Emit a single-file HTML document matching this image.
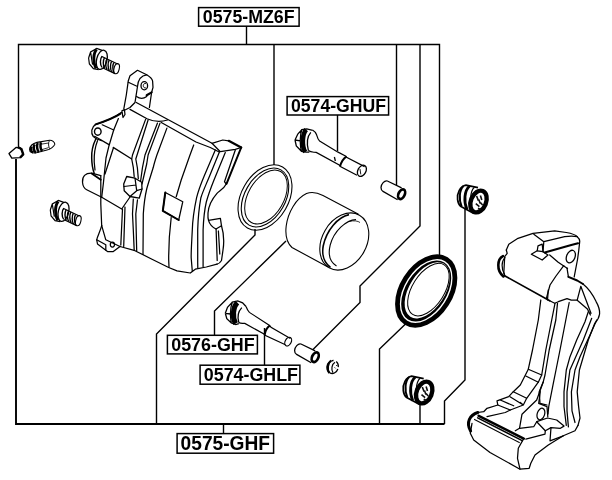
<!DOCTYPE html>
<html><head><meta charset="utf-8">
<style>
html,body{margin:0;padding:0;background:#fff;}
body{width:612px;height:480px;overflow:hidden;position:relative;font-family:"Liberation Sans",sans-serif;}
svg{position:absolute;left:0;top:0;}
</style></head><body>
<svg width="612" height="480" viewBox="0 0 612 480">
<!-- LEADERS -->
<g id="leaders" fill="none" stroke="#000" stroke-width="1.4" stroke-linejoin="miter">
<path d="M18.5 147V44.5H439.5V256"/>
<path d="M246.5 26V44.5"/>
<path d="M274 44.5V165"/>
<path d="M396.5 44.5V186"/>
<path d="M420 44.5V226L360 286V302.5L312.5 350"/>
<path d="M337.5 115V151"/>
<path d="M465 209V380L444.5 401V424"/>
<path d="M255 229V235L156.5 334V424"/>
<path d="M286 241L214.5 311V336"/>
<path d="M264.5 328V365"/>
<path d="M405.5 324L379.5 349V424"/>
<path d="M420 404V424"/>
<path d="M223.5 424V433"/>
</g>
<g id="leaders2" fill="none" stroke="#000" stroke-width="1.9">
<path d="M16 159V424H444.5"/>
</g>
<!-- PARTS -->
<g id="caliper" fill="none" stroke="#000" stroke-width="1.25" stroke-linejoin="round" stroke-linecap="round">
<!-- upper lug -->
<path d="M123.8 108.8L126.3 95L128.3 80.7L130 75.7L137.5 70.3L146.7 74.8Q152 78 152.6 81L153 87.3L151.6 92.5L149.4 107.5"/>
<path d="M137.5 86.5C138 80 141 75.5 146.7 74.8M137.5 86.5L135.8 97.3L135 102.5L130 107.5L124 110.5M128.3 82.3L137.5 86.5"/>
<path d="M136.5 96.5Q141.7 100.4 146.7 96.5"/>
<path d="M146.7 95.2L151.6 92.4" stroke-width="2.2"/>
<ellipse cx="144.3" cy="85.8" rx="3.3" ry="4.1" stroke-width="1.3"/>
<path d="M145.6 83.4A1.8 2.4 0 1 0 145.6 88" stroke-width=".9"/>
<path d="M121.9 110.8L124.4 109.6L125 114.5L123 117.5Z"/>
<!-- top -->
<path d="M136.3 102.5L212 143.3L222.8 140L228.7 140.8"/>
<path d="M228.7 140.8L241.2 147.5" stroke-width="2.2"/>
<path d="M130 109.4L147 118.8Q157.5 123.4 167.5 120"/>
<path d="M161.3 122.5L196 142L210.3 147.5L218.7 151.7"/>
<path d="M212 143.3L220.3 151.7L235.3 149.4L241.2 147.5"/>
<path d="M241.2 147.5L226.6 183.6" stroke-width="2"/>
<path d="M235.3 150L224.5 181.7L226.2 184.2"/>
<path d="M226.6 183.6C224 189 219 191 217 193.3C212 199 208.5 205 208 213C207.8 217 208 219 208.5 220.4C209.5 224 212 227 216 229L221.5 225.8L220.4 218.3L208.5 220.4"/>
<path d="M216.1 229L217.2 260.5M221.5 225.8C224 234 224.4 241 223 250L221.5 260.5C220 263 218 264 217 264.2M218.4 231L219.8 254" />
<path d="M120 246.5L135 250.7L152 259.2L168.7 267.5L177 270.8L190.3 273L195.3 269.2L206.3 267L217 264.2"/>
<!-- arcs right -->
<path d="M215.3 150L204.2 176C200 186 198 192 196.6 197.7C194 210 192.6 220 192.3 230C191.6 244 191 252 191.2 258L192.3 271.3"/>
<path d="M219.5 151.7L209.6 176C205 187 202.6 192 200.9 197.7C198.6 210 198 220 197.7 230L197.7 262.7L197.8 268"/>
<path d="M225.3 152.5L213.9 180.3C210 190 208 196 206.3 202C204 212 203.4 222 203.1 230L203.1 266.8"/>
<!-- window line -->
<path d="M193.7 145L190 155L181.2 180L176.2 196.7M171.2 217.5C169.4 232 168.6 248 168.7 260L169 267.3"/>
<path d="M165.3 192.5L182.8 201.7L178.7 220L162.8 210.8Z"/>
<path d="M165.3 192.5L162.8 210.8L178.7 220" stroke-width="2"/>
<!-- ribs -->
<path d="M145.6 119.4L132.5 155L131.7 159L133.3 167.3L134.2 176.6M148.1 120L135.8 159L137.4 168L138.3 178.6"/>
<path d="M157.5 123.1L145 155L142.5 167.3L140.6 181M160 123.1L148.1 155L146.7 164L142 184"/>
<path d="M166.9 128.1L156.9 155C154.6 162 154 164 153.3 167.3C150 178 148 184 146.7 189C144.6 198 143.8 206 143.3 214L143 254.4"/>
<path d="M133.3 199L132.5 214L133.3 230L134.2 250.4M137.5 199.8L135.8 214L136.7 250.8"/>
<!-- nut -->
<path d="M126.7 176.5L135 178.2L141.7 182.3L142 189L139.2 198.2L130 196.5L124.2 190.7L123.7 184Z" fill="#fff" stroke-width="1.3"/>
<path d="M135 178.2L136.7 190.7L130 196.5M124 186.5L136 185M136.7 190.7L142 189"/>
<!-- left lug -->
<ellipse cx="97.8" cy="131.6" rx="3.3" ry="3.6" stroke-width="1.4"/>
<path d="M121.7 112.3C113 119 102 122.6 95.4 124.6C91.4 127 90.6 133 93.3 136.5L96.7 139L101.7 140.7"/>
<path d="M120.5 113.6C113 118.6 104 121.6 95.6 124.4" stroke-width="2"/>
<path d="M102.2 124.8L113.7 130"/>
<path d="M118.4 118.6L113.7 130L109 145.7L106 158L103.3 184L101.7 197.3"/>
<!-- left body edge -->
<path d="M95.8 139C92.4 146 91.4 152 91.7 158C91.8 164 92.6 169 94.2 173.2" stroke-width="1.5"/>
<path d="M97.5 140.7C94.6 148 94 156 94.2 162L95 170"/>
<path d="M94.6 136.3L109 144.6M113.2 147.4L131.7 159M113.3 148.2L105 174"/>
<!-- boss -->
<path d="M100.8 175.7L91.7 173.2Q82 173 82.5 182.3Q83 188 86.7 189.8L101.7 197.3"/>
<path d="M91.7 173.5L100.8 179.8" stroke-width="1.8"/>
<path d="M100.8 175.7L100.8 204L101.7 225.7"/>
<!-- plate bottom -->
<path d="M101.7 197.3L121.7 209L130 197M122.5 209L120.8 245M125 207L123.7 246.4"/>
<!-- lower lug -->
<path d="M101.7 225.7C100 232 97.5 236 96.7 239.8L97.5 244L107.5 251.5L113.3 251.5L120 246.5"/>
<path d="M96.7 239.8L105.8 244.8L105.8 250M101.7 225.7L105.8 239.8L120 246.5"/>
<ellipse cx="112.4" cy="244.6" rx="2.1" ry="2.5"/>
</g>
<g id="bracket" fill="none" stroke="#000" stroke-width="1.25" stroke-linejoin="round" stroke-linecap="round">
<!-- top block -->
<path d="M506.3 250L508.8 244.2L518 238.3L533 233.3L554.7 230.8L566.3 232.5Q575 234 577.2 236.7Q580 239 579.7 241.7L578.8 250L577.6 259L574.2 276.9"/>
<path d="M567 268L568.4 276.9"/>
<path d="M568.4 276.9L577.2 280.5L583 284" stroke-width="2"/>
<path d="M580.8 286.3L577.2 300.2M580.8 286.3L588.8 307.5L591 313.3M577.2 300.2L587.4 309L590.4 315"/>
<path d="M506.3 250L507.2 253.3L504.7 256.7L503.8 273.3L505 276.6"/>
<path d="M503 256.2C497.4 259 496 270 503.4 276.4" stroke-width="2.6"/>
<path d="M505 257.6C501.4 261 501 269 504.6 274.4" stroke-width="1.2"/>
<path d="M504.7 275.8L549.7 300.8" stroke-width="1.6"/>
<path d="M549.7 300.8L554.7 303.3L558.3 301.7L567 298.7L571.3 300.2L577.2 300.2"/>
<path d="M563.75 265.6L556 276L550 285L546.3 298.6"/>
<path d="M531.3 254.2L537.2 250.8L538 245.8L542.2 244.2L543 251.7L548 255L542.2 260Z"/>
<path d="M537.2 250.8L543 251.7" />
<path d="M533.8 234.2L543.8 241.7L564.7 236.7Q572 235.5 577.2 236.7M543.8 241.7L543 251.7"/>
<path d="M544.7 252.5L571.3 245L578 243.3" stroke-width="2.2"/>
<ellipse cx="570.8" cy="256.6" rx="4.2" ry="6.6" transform="rotate(22 570.8 256.6)" stroke-width="1.3"/>
<path d="M549.7 255L558.2 262.3L567.5 268.6"/>
<path d="M548.3 290L547.5 300"/>
<!-- outer right -->
<path d="M583 284C588 288 593 295 596.1 301.6C598.6 306 600 310 599.6 314C599 318 597 321 594.7 323.5L588.3 340L583.3 356.7L579.4 370L577.2 391.9L578.6 406.5L580 418L578 425.4"/>
<path d="M588.3 311.7L585 321.7L576.7 340L570 356.7L566.3 370L564 391.9L564 406.5L566.3 425.4"/>
<path d="M591.7 318.3L583.3 340L575.8 356.7L569.9 370L567 391.9L567 410.8L568.4 426.9"/>
<path d="M596.7 320L590 335L580 356.7L575 370L571.4 391.9L572 410.8L575 422.5"/>
<!-- left arm lines -->
<path d="M540.8 300L538.3 320L532.5 350L528.3 369.2L520.3 385L513.3 391.7L508.7 396.7L497 400.8L497.8 405L487 408.3L483.7 411.7L477.8 412.5"/>
<path d="M555 303.3L551.7 320L545.8 350L541.7 375"/>
<path d="M557.5 303.3L555.8 320L549.2 350L545 375L543.3 381.7L539.2 391.7L540 403.3L547 405"/>
<path d="M569.2 302.5L565.8 320L560 350L556 370L553.3 383.3L548.75 406.5L548 414"/>
<path d="M528.3 369.2L541.7 375L538.3 382.2L525.8 376"/>
<path d="M538.3 382.2L526.7 398.3L523.3 405L520.3 402.5M513.3 391.7L526.7 398.3M510 396.7L523.3 405L510.3 410L497.8 405M500.3 400L513.7 405.8"/>
<path d="M543.3 381.7L536.7 400L522 414.2L519.5 428.3L515.3 430.8"/>
<path d="M510.3 410L505.3 412.5L487 416.7"/>
<!-- lower hole & tab -->
<ellipse cx="540.9" cy="414" rx="3.7" ry="6" transform="rotate(18 540.9 414)"/>
<path d="M540.3 391.7L538.7 403.3L547 406.7L547.8 416.7"/>
<path d="M519.5 428.3L533.7 426.7L536.7 421.7L547.5 418L556.7 420L564 426.1L560.4 428.3L551 427.6L545.3 430.8L545 434.2L525.8 439.2"/>
<path d="M536.7 421.7L545.3 430.8M551 427.6L550 440.8L563.3 435.8"/>
<!-- bottom block -->
<path d="M477.8 412.5C470 415 465.6 422 470.6 431" stroke-width="3"/>
<path d="M478.7 415.8L523.7 438.6" stroke-width="2.6"/>
<path d="M477.6 417.8L522.2 440.6" stroke-width="1.5"/>
<path d="M474.5 419.4L519.3 442.6" stroke-width="1.1"/>
<path d="M472 423.3L470.3 433.3L473.7 440L490 452.5L520 469.2L529.2 468.3L530.8 463.3L535 455L548.3 445L563.3 435.8L575 430.8L578 425.4"/>
<path d="M523.7 438.6L518.3 448.3L517.5 458.3L520 469.2"/>
</g>
<g id="oring" fill="none" stroke="#000" stroke-width="1.1">
<ellipse cx="265" cy="197.5" rx="35.2" ry="23.6" transform="rotate(-60 265 197.5)"/>
<ellipse cx="265" cy="197.5" rx="31.9" ry="20.3" transform="rotate(-60 265 197.5)"/>
<ellipse cx="266" cy="197" rx="29.4" ry="17.8" transform="rotate(-60 266 197)" stroke-width="1"/>
</g>
<g id="piston" fill="none" stroke="#000" stroke-width="1.1">
<path d="M358.5 214.2L323 195.6C317 192.4 311.5 191.4 306.5 193.6C296 198.6 288 212 286.2 226C285 236 287 243 292 247.5L328 267"/>
<ellipse cx="344.3" cy="241.5" rx="30.3" ry="22.2" transform="rotate(-60 344.3 241.5)"/>
<path d="M349 214.6C338 217 326.5 230 323.2 246C321.6 255 324.5 263 330.5 267.3" stroke-width="1.6"/>
<path d="M356 219.6C346 220 334 231 330.2 245C328 254 330 262 336.5 266"/>
<path d="M349 221.5C354 220.2 358 221 360 222.5" stroke-width=".8"/>
</g>
<g id="seal" fill="none" stroke="#000">
<ellipse cx="426.2" cy="291" rx="37.6" ry="24.2" transform="rotate(-57.5 426.2 291)" stroke-width="4.8"/>
<ellipse cx="426.2" cy="291" rx="33.8" ry="20.4" transform="rotate(-57.5 426.2 291)" fill="#000" stroke="none"/>
<ellipse cx="427.2" cy="290.3" rx="31.4" ry="17.8" transform="rotate(-57.5 427.2 290.3)" fill="#fff" stroke="none"/>
<ellipse cx="428.4" cy="289.6" rx="29.4" ry="16" transform="rotate(-57.5 428.4 289.6)" stroke-width="1"/>
</g>
<defs>
<filter id="idf" x="0" y="0" width="612" height="480" filterUnits="userSpaceOnUse"><feOffset dx="0" dy="0"/></filter>
<g id="bolt" fill="none" stroke="#000" stroke-width="1">
<path d="M88.6 58L90.6 52L96.8 48.4L102 50.4M88.6 58L89.4 64L93.4 68.6L98.6 69.6M90.6 52L91.6 58.4L92.6 64.6" stroke-width="1.2"/>
<path d="M96.6 49.6C93.4 53 92.6 62 96 68.4" stroke-width="2.9"/>
<ellipse cx="101.8" cy="59.8" rx="5.2" ry="9.8" transform="rotate(14 101.8 59.8)" fill="#fff" stroke-width="1.3"/>
<path d="M101.4 56.2L117.6 64M103 68L115 73.6" stroke-width="1.2"/>
<ellipse cx="116.6" cy="68.7" rx="2.6" ry="5.2" transform="rotate(14 116.6 68.7)" stroke-width="1.1"/>
<path d="M102 56.6C100 58.6 99.8 64.6 102 67.4M104.4 57.8C102.8 60.4 103 65.8 104.6 68.4M106.8 59C105.2 61.6 105.4 67 107 69.6M109.2 60.2C107.6 62.8 107.8 68.2 109.4 70.8M111.6 61.4C110 64 110.2 69.4 111.8 72M113.8 62.6C112.4 65 112.6 70.4 114 72.8" stroke-width="1.4"/>
</g>
<g id="sleeve" fill="none" stroke="#000" stroke-width="1.3">
<path d="M401.6 187.8L387.4 181C384.6 180 381 184 381 187.6C381 189.6 381.8 190.8 383 191.4L397.6 199.8" fill="#fff"/>
<ellipse cx="401.6" cy="194.2" rx="3.1" ry="5.1" transform="rotate(25 401.6 194.2)" stroke-width="2.7"/>
</g>
<g id="bush" fill="none" stroke="#000">
<path d="M478 187.6L466 185.2C460 186.4 456.8 193 457.6 199.6C458 203 459.4 205.4 461 206.6L474 213.4" fill="#fff" stroke-width="1.7"/>
<path d="M463.4 186C459.4 190 458.6 199.4 461.6 206.4" stroke-width="2"/>
<path d="M469.6 186C464.4 190.4 463.4 201.4 467 209.6" stroke-width="2.8"/>
<path d="M474.4 187.2C470 191 469.4 203 472.4 212" stroke-width="1.2"/>
<ellipse cx="478.5" cy="201.5" rx="7.6" ry="11.3" transform="rotate(22 478.5 201.5)" stroke-width="4.4" fill="#fff"/>
<path d="M476.6 196L478.4 200.6M480.4 195.4L481.8 200M475.8 203.6L479.4 206.6M480.4 202.6L482.6 205M478 208.2L480.8 209.4M478.8 199.4L480.2 203.4" stroke-width="1.6" stroke="#111"/>
</g>
</defs>
<use href="#bolt"/>
<use href="#bolt" transform="translate(-38.3 152)"/>
<use href="#sleeve"/>
<use href="#sleeve" transform="translate(-86.4 163)"/>
<use href="#bush"/>
<use href="#bush" transform="translate(-54.3 191)"/>
<g id="cap" stroke="#000" stroke-width="1.3" fill="#fff" stroke-linejoin="round">
<path d="M9 153.6L16 147.4L20.4 148L23.4 154L20.2 157.6L11.8 158.2Z"/>
<path d="M18 147.2L21.4 149L23.2 154.4L20 157.8" fill="none" stroke-width="2.4"/>
</g>
<g id="bleeder" stroke="#000" stroke-width="1.1" fill="none">
<path d="M29.6 149.4C30 146 33 143.4 37 142.4L49.6 140.2C52 140 55 142.2 54.8 144.4C54 146.6 50 149.6 47 150L36.4 152.8C32 153.4 29.6 152 29.6 149.4Z" fill="#fff"/>
<path d="M31.4 146.4C30.4 148.6 31 151.6 33 152.6M34.6 144.4C33 147 33.6 151.2 36 152.6M37.8 143C36.4 145.6 37 150.6 39 152M41 142.2C40 144.8 40.4 149.6 42.2 151.2" stroke-width="2.5"/>
<path d="M49.4 140.6C48 142.8 48.4 147.4 50 149" stroke-width=".9"/>
<path d="M41 144.2L48.6 143M42 149.6L48.6 147.6" stroke-width=".8"/>
</g>
<g id="pinU" fill="none" stroke="#000" stroke-width="1.2">
<path d="M295 140L297.8 134L301.9 129.5L306.8 128.8L312.8 130.3M295 140L296.3 146L301.5 151.3L306 152L309.4 152.2M295.1 140L300.2 140.8M301.9 129.5L300.8 133.5L300.2 140.8L300.6 147L301.5 151.3" stroke-width="1.3"/>
<path d="M306.2 129.6C302.2 134 301.6 146 305.2 152" stroke-width="4.6"/>
<path d="M310.8 132.4C307.7 136 306.5 143 308.4 150.6" stroke-width="1.3"/>
<path d="M312.8 130.3C315 131.5 316 133 316.6 134.8C317.4 137.6 318 139.6 319.6 141L337.6 151.9L345.4 156L347 157.6L364.6 166.6"/>
<path d="M308.4 150.6C311 152.6 313 152 316.25 152.4L339.2 164.9L340.4 166.6L357 175.2"/>
<path d="M346.6 156.4C343.6 158.4 341 162.6 340 166.6" stroke-width="2"/>
<path d="M334.4 157L335.4 161" stroke-width="1.3"/>
<ellipse cx="361.9" cy="170.8" rx="4" ry="6" transform="rotate(28 361.9 170.8)" stroke-width="1.3"/>
<path d="M360 169L360.8 174.4" stroke-width=".9"/>
</g>
<g id="pinL" fill="none" stroke="#000" stroke-width="1.2">
<path d="M225.3 313.3L227.5 307.3L232.4 302L237.7 300.9L242.6 302.8L246 306.5M225.3 313.3L226.8 318.6L231.3 323L235.8 324.6L238.8 323.6M225.4 313.3L230.4 314M232.4 302L231 307L230.4 314L230.8 319.4L231.3 323" stroke-width="1.3"/>
<path d="M237.4 302.6C232.8 307 232.2 318 235.6 323.6" stroke-width="5.2"/>
<path d="M241.8 307.6C238.6 311 237.2 317 238.8 322.6" stroke-width="1.3"/>
<path d="M246 306.5C247 309 248 311 249.4 312.4L269.6 325.4L271 327.2L290.4 338.6"/>
<path d="M238.8 322.6C241.4 323.8 243 323 244.8 323.4L264.4 334.2L265 335.4L285.4 344.8"/>
<path d="M269.8 325.6C267 327.4 265.2 331 264.6 335" stroke-width="2"/>
<ellipse cx="288.2" cy="341.6" rx="3" ry="4.6" transform="rotate(28 288.2 341.6)" stroke-width="1.2"/>
</g>
<g id="plug" fill="none" stroke="#000">
<ellipse cx="332.6" cy="367" rx="5.6" ry="6.6" transform="rotate(20 332.6 367)" stroke-width="1.3" stroke-dasharray="22 3 2 3 6 2"/>
<path d="M331.4 360.6C327.6 362.6 326.6 369.6 329.4 373" stroke-width="2.2"/>
<path d="M335 362.2C331.6 364 331 370 333 372.6" stroke-width="1.2"/>
<path d="M334.6 367.4L335.6 368.4M336.2 365L337 366" stroke-width=".9"/>
</g>
<!-- LABELS -->
<g id="labels" filter="url(#idf)" font-family="Liberation Sans, sans-serif" font-weight="bold" font-size="18.5" fill="#000">
<rect x="198.6" y="7.6" width="100.5" height="18.6" fill="#fff" stroke="#000" stroke-width="1.5"/>
<text x="202.8" y="23.3" textLength="91.8" lengthAdjust="spacingAndGlyphs">0575-MZ6F</text>
<rect x="287.1" y="96.6" width="101.5" height="18.4" fill="#fff" stroke="#000" stroke-width="1.5"/>
<text x="291" y="112.2" textLength="95" lengthAdjust="spacingAndGlyphs">0574-GHUF</text>
<rect x="167.4" y="335.3" width="90" height="18.6" fill="#fff" stroke="#000" stroke-width="1.5"/>
<text x="171.2" y="351" textLength="83.5" lengthAdjust="spacingAndGlyphs">0576-GHF</text>
<rect x="200.1" y="365.2" width="99.8" height="19" fill="#fff" stroke="#000" stroke-width="1.5"/>
<text x="203.8" y="381" textLength="94.2" lengthAdjust="spacingAndGlyphs">0574-GHLF</text>
<rect x="177.1" y="433.6" width="96.5" height="19.6" fill="#fff" stroke="#000" stroke-width="1.5"/>
<text x="180.6" y="450.4" font-size="19.5" textLength="89.5" lengthAdjust="spacingAndGlyphs">0575-GHF</text>
</g>
</svg>
</body></html>
